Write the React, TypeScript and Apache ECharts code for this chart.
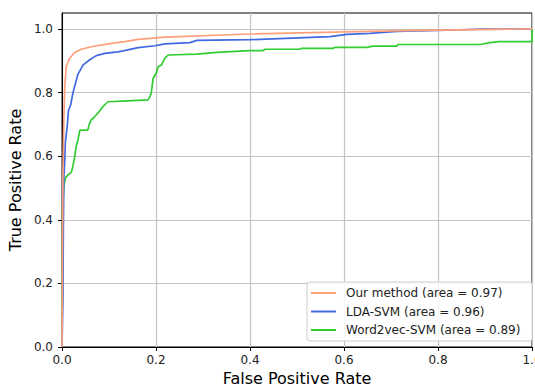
import React, { useEffect, useRef } from "react";
import * as echarts from "echarts";

const seriesNames = [
  "Our method (area = 0.97)",
  "LDA-SVM (area = 0.96)",
  "Word2vec-SVM (area = 0.89)",
];

const ourMethod: [number, number][] = [
  [0, 0], [0.001, 0.3], [0.002, 0.55], [0.004, 0.72], [0.006, 0.824], [0.009, 0.881],
  [0.016, 0.907], [0.027, 0.926], [0.041, 0.936], [0.062, 0.944], [0.098, 0.953],
  [0.133, 0.96], [0.162, 0.967], [0.219, 0.974], [0.4, 0.984], [0.7, 0.994], [1.0, 1.0],
];

const ldaSvm: [number, number][] = [
  [0, 0], [0.002, 0.16], [0.003, 0.4], [0.0035, 0.462], [0.004, 0.535], [0.006, 0.588],
  [0.007, 0.641], [0.011, 0.693], [0.014, 0.745], [0.0185, 0.761], [0.023, 0.797],
  [0.027, 0.82], [0.034, 0.858], [0.045, 0.887], [0.059, 0.903], [0.073, 0.916],
  [0.091, 0.923], [0.119, 0.928], [0.14, 0.934], [0.162, 0.941], [0.198, 0.947],
  [0.219, 0.953], [0.272, 0.957], [0.287, 0.964], [0.4, 0.966], [0.57, 0.976],
  [0.606, 0.983], [0.655, 0.986], [0.712, 0.992], [0.797, 0.995], [0.896, 0.999],
  [1.0, 1.0],
];

const word2vecSvm: [number, number][] = [
  [0, 0], [0.001, 0], [0.002, 0.46], [0.004, 0.504], [0.007, 0.531], [0.013, 0.541],
  [0.02, 0.55], [0.023, 0.567], [0.027, 0.598], [0.03, 0.63], [0.034, 0.651],
  [0.038, 0.682], [0.055, 0.682], [0.058, 0.7], [0.062, 0.714], [0.067, 0.72],
  [0.073, 0.73], [0.079, 0.74], [0.084, 0.75], [0.09, 0.76], [0.098, 0.771],
  [0.127, 0.773], [0.183, 0.777], [0.187, 0.787], [0.19, 0.8], [0.194, 0.845],
  [0.198, 0.855], [0.201, 0.862], [0.204, 0.88], [0.212, 0.887], [0.215, 0.897],
  [0.219, 0.908], [0.226, 0.918], [0.287, 0.921], [0.329, 0.926], [0.4, 0.932],
  [0.428, 0.932], [0.432, 0.936], [0.506, 0.936], [0.51, 0.939], [0.577, 0.939],
  [0.581, 0.942], [0.648, 0.942], [0.662, 0.946], [0.712, 0.946], [0.715, 0.951],
  [0.889, 0.951], [0.911, 0.957], [0.928, 0.96], [1.0, 0.96], [1.0, 1.0],
];

const tickValues = [0, 0.2, 0.4, 0.6, 0.8, 1.0];
const colors = ["#FFA07A", "#4169E1", "#32CD32"];

export default function App() {
  const ref = useRef<HTMLDivElement>(null);
  useEffect(() => {
    document.body.style.margin = "0";
    const chart = echarts.init(ref.current!, null, { renderer: "svg" });
    const font = "DejaVu Sans";
    const axisCommon = {
      type: "value" as const,
      min: 0,
      interval: 0.2,
      nameLocation: "middle" as const,
      nameTextStyle: { fontFamily: font, fontSize: 16, color: "#000" },
      axisLine: { show: true, lineStyle: { color: "#000", width: 1 } },
      axisTick: {
        show: true,
        inside: false,
        length: 4,
        lineStyle: { color: "#000", width: 1 },
        customValues: tickValues,
      },
      axisLabel: {
        fontFamily: font,
        fontSize: 12,
        color: "#222",
        customValues: tickValues,
        formatter: (v: number) => v.toFixed(1),
      },
      splitLine: { show: true, lineStyle: { color: "#c4c4c4", width: 1.2 } },
    };
    chart.setOption({
      animation: false,
      color: colors,
      grid: {
        left: 62,
        right: 3,
        top: 13,
        bottom: 39,
        show: true,
        borderColor: "#000",
        borderWidth: 1,
        backgroundColor: "transparent",
        containLabel: false,
        outerBoundsMode: "none",
      },
      xAxis: {
        ...axisCommon,
        max: 1,
        name: "False Positive Rate",
        nameGap: 22,
        axisLabel: { ...axisCommon.axisLabel, margin: 7 },
      },
      yAxis: {
        ...axisCommon,
        max: 1.05,
        name: "True Positive Rate",
        nameGap: 32,
        axisLabel: { ...axisCommon.axisLabel, margin: 9 },
      },
      legend: {
        orient: "vertical",
        left: 307,
        top: 282,
        padding: [4, 12, 4, 4],
        icon: "rect",
        itemWidth: 25,
        itemHeight: 2,
        itemGap: 4.5,
        backgroundColor: "rgba(255,255,255,0.85)",
        borderColor: "#cccccc",
        borderWidth: 1,
        borderRadius: 3,
        textStyle: {
          fontFamily: font,
          fontSize: 12,
          color: "#222",
          padding: [0, 0, 0, 5],
          lineHeight: 14,
        },
        data: seriesNames,
      },
      series: [ourMethod, ldaSvm, word2vecSvm].map((d, i) => ({
        name: seriesNames[i],
        type: "line",
        data: d,
        symbol: "none",
        showSymbol: false,
        lineStyle: { width: 1.7, color: colors[i] },
        itemStyle: { color: colors[i] },
        z: 3 - i,
      })),
    });
    return () => chart.dispose();
  }, []);
  return <div ref={ref} style={{ width: 535, height: 386 }} />;
}
